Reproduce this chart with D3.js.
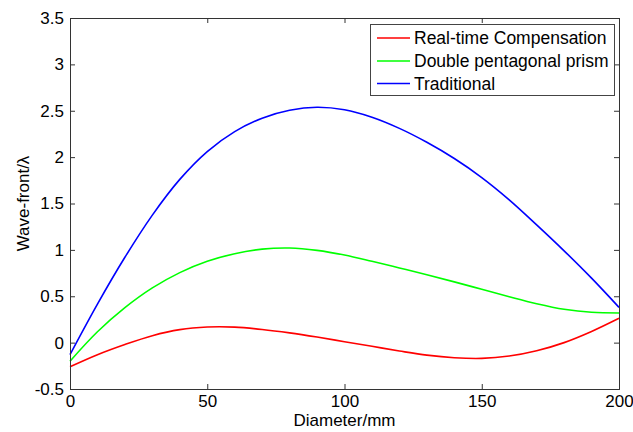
<!DOCTYPE html>
<html>
<head>
<meta charset="utf-8">
<script src="https://cdn.jsdelivr.net/npm/d3@7/dist/d3.min.js"></script>
<style>
  body { margin: 0; background: #fff; }
  text { font-family: "Liberation Sans", Arial, sans-serif; fill: #000; }
</style>
</head>
<body>
<div id="chart"></div>
<script>
// values, every 10 mm
var diameter = [0,10,20,30,40,50,60,70,80,90,100,110,120,130,140,150,160,170,180,190,200]
var realTime = [-0.26,-0.13,-0.02,0.075,0.14,0.168,0.167,0.142,0.105,0.06,0.01,-0.04,-0.09,-0.135,-0.163,-0.17,-0.145,-0.088,0.0,0.12,0.262]
var pentaPrism = [-0.2,0.117,0.377,0.59,0.755,0.877,0.959,1.008,1.02,0.995,0.945,0.877,0.805,0.732,0.655,0.575,0.495,0.42,0.36,0.327,0.32]
var traditional = [-0.13,0.415,0.92,1.375,1.76,2.06,2.275,2.42,2.505,2.537,2.51,2.43,2.31,2.16,1.985,1.78,1.54,1.27,0.99,0.695,0.38]

var seriesNames = ["Real-time Compensation","Double pentagonal prism","Traditional"]
var seriesColors = ["#ff0000","#00ff00","#0000ff"]
var xTicks = [0,50,100,150,200]
var yTicks = [-0.5,0,0.5,1,1.5,2,2.5,3,3.5]

function drawChart() {
  var width = 633
  var height = 432
  // plot box (window.top is taken, so own names)
  var boxL = 70, boxR = 619, boxT = 18, boxB = 389

  var xScale = d3.scaleLinear().domain([0,200]).range([boxL,boxR])
  var yScale = d3.scaleLinear().domain([-0.5,3.5]).range([boxB,boxT])

  var svg = d3.select("#chart").append("svg")
      .attr("width", width)
      .attr("height", height)

  // the curves
  var allSeries = [realTime, pentaPrism, traditional]
  var line = d3.line()
      .x(function(d,i) { return xScale(diameter[i]) })
      .y(function(d) { return yScale(d) })
      .curve(d3.curveCatmullRom)

  for (var s=0; s<allSeries.length; s++) {
    svg.append("path")
        .attr("d", line(allSeries[s]))
        .attr("fill", "none")
        .attr("stroke", seriesColors[s])
        .attr("stroke-width", 1.6)
  }

  // axes, matlab style: ticks inside, box all round
  var xAxis = d3.axisBottom(xScale).tickValues(xTicks).tickSize(-5).tickPadding(6).tickFormat(d3.format("d"))
  var yAxis = d3.axisLeft(yScale).tickValues(yTicks).tickSize(-5).tickPadding(6).tickFormat(function(d) { return d })

  svg.append("g")
      .attr("transform", "translate(0," + boxB + ")")
      .call(xAxis)
  svg.append("g")
      .attr("transform", "translate(" + boxL + ",0)")
      .call(yAxis)
  svg.append("g")
      .attr("transform", "translate(0," + boxT + ")")
      .call(d3.axisTop(xScale).tickValues(xTicks).tickSize(-5).tickFormat(""))
  svg.append("g")
      .attr("transform", "translate(" + boxR + ",0)")
      .call(d3.axisRight(yScale).tickValues(yTicks).tickSize(-5).tickFormat(""))

  svg.selectAll(".domain").attr("stroke", "#333")
  svg.selectAll(".tick line").attr("stroke", "#333")
  svg.selectAll(".tick text")
      .style("font-size", "17px")
      .style("font-family", "Liberation Sans, Arial, sans-serif")
      .attr("fill", "#000")

  // axis labels
  svg.append("text")
      .attr("x", (boxL+boxR)/2)
      .attr("y", 426)
      .attr("text-anchor", "middle")
      .style("font-size", "17px")
      .text("Diameter/mm")

  svg.append("text")
      .attr("transform", "translate(29," + ((boxT+boxB)/2) + ") rotate(-90)")
      .attr("text-anchor", "middle")
      .style("font-size", "17px")
      .text("Wave-front/λ")

  // legend
  var legend = svg.append("g")
  legend.append("rect")
      .attr("x", 370.5)
      .attr("y", 24.5)
      .attr("width", 244)
      .attr("height", 71)
      .attr("fill", "#fff")
      .attr("stroke", "#444")

  var rowY = [38, 61, 83.5]
  legend.selectAll(".lg-line")
      .data(seriesNames)
      .enter()
      .append("line")
      .attr("x1", 377)
      .attr("x2", 410)
      .attr("y1", function(d,i) { return rowY[i] })
      .attr("y2", function(d,i) { return rowY[i] })
      .attr("stroke", function(d,i) { return seriesColors[i] })
      .attr("stroke-width", 1.6)

  legend.selectAll(".lg-text")
      .data(seriesNames)
      .enter()
      .append("text")
      .attr("x", 414)
      .attr("y", function(d,i) { return rowY[i] + 6 })
      .style("font-size", "17.5px")
      .text(function(d) { return d })
}

drawChart()
</script>
</body>
</html>
